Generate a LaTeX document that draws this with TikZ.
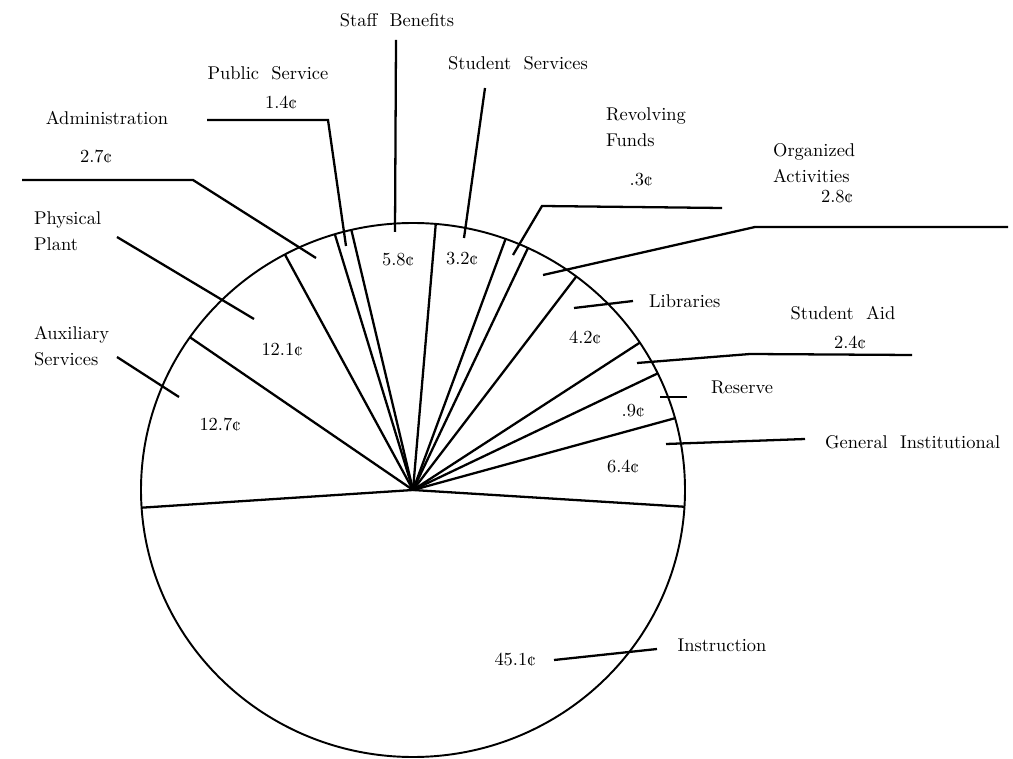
\documentclass[tikz,border=0pt]{standalone}
\usepackage{tikz}
\def\lbl{\node[inner sep=0pt,font=\fontsize{10.5}{14.5}\selectfont,align=left]}

\begin{document}
\begin{tikzpicture}[x=0.02cm,y=-0.02cm,line width=1.3pt]
\useasboundingbox (0,0) rectangle (1013,759);
% the pie
\coordinate (hub) at (413,490);
\draw[line width=1.1pt] (hub) ellipse (272 and 267);
\foreach \a in {183.8,145.1,118.1,106.7,103.1,85.2,70.1,65.0,53.1,33.5,25.9,15.6,-3.6}
  \draw (hub) -- ++(-\a:272 and 267);
% amounts inside the slices
\lbl (sb) at (398,260) {5.8¢};
\lbl (ss) at (462,259) {3.2¢};
\lbl (pp) at (282,350) {12.1¢};
\lbl (as) at (220,425) {12.7¢};
\lbl (li) at (585,338) {4.2¢};
\lbl (re) at (633,411) {.9¢};
\lbl (gi) at (623,467) {6.4¢};
\lbl (in) at (515,660) {45.1¢};
% labels outside
\lbl (staff) at (397,20) {Staff\ \ Benefits};
\lbl (stusvc) at (518,63) {Student\ \ Services};
\lbl (pubsvc) at (268,73) {Public\ \ Service};
\lbl (pubval) at (281,103) {1.4¢};
\lbl (admin) at (107,118) {Administration};
\lbl (adminval) at (96,157) {2.7¢};
\lbl[anchor=west] (plant) at (33,231) {Physical\\Plant};
\lbl[anchor=west] (aux) at (33,346) {Auxiliary\\Services};
\lbl[anchor=west] (revolv) at (605,127) {Revolving\\Funds};
\lbl (revolvval) at (641,180) {.3¢};
\lbl[anchor=west] (orgact) at (772,163) {Organized\\Activities};
\lbl (orgactval) at (837,197) {2.8¢};
\lbl[anchor=west] (libr) at (648,301) {Libraries};
\lbl (stuaid) at (843,313) {Student\ \ Aid};
\lbl (stuaidval) at (850,343) {2.4¢};
\lbl[anchor=west] (reserve) at (710,387) {Reserve};
\lbl[anchor=west] (genins) at (824,442) {General\ \ Institutional};
\lbl (instr) at (722,645) {Instruction};
% leader lines
\coordinate (staffA) at (396,40);   \coordinate (staffB) at (395,232);
\coordinate (stusvcA) at (485,88);  \coordinate (stusvcB) at (464,238);
\coordinate (pubA) at (207,120);    \coordinate (pubK) at (328,120);  \coordinate (pubB) at (346,246);
\coordinate (adminA) at (22,180);   \coordinate (adminK) at (193,180); \coordinate (adminB) at (316,258);
\coordinate (plantA) at (117,237);  \coordinate (plantB) at (254,319);
\coordinate (auxA) at (117,357);    \coordinate (auxB) at (179,397);
\coordinate (revA) at (722,208);    \coordinate (revK) at (542,206);  \coordinate (revB) at (513,255);
\coordinate (orgA) at (1008,227);   \coordinate (orgK) at (755,227);  \coordinate (orgB) at (543,275);
\coordinate (librA) at (633,301);   \coordinate (librB) at (574,308);
\coordinate (aidA) at (912,355);    \coordinate (aidK) at (750,354);  \coordinate (aidB) at (637,363);
\coordinate (resA) at (687,397);    \coordinate (resB) at (660,397);
\coordinate (genA) at (805,439);    \coordinate (genB) at (666,444);
\coordinate (instrA) at (657,649);  \coordinate (instrB) at (554,660);
\draw (staffA) -- (staffB);
\draw (stusvcA) -- (stusvcB);
\draw (pubA) -- (pubK) -- (pubB);
\draw (adminA) -- (adminK) -- (adminB);
\draw (plantA) -- (plantB);
\draw (auxA) -- (auxB);
\draw (revA) -- (revK) -- (revB);
\draw (orgA) -- (orgK) -- (orgB);
\draw (librA) -- (librB);
\draw (aidA) -- (aidK) -- (aidB);
\draw (resA) -- (resB);
\draw (genA) -- (genB);
\draw (instrA) -- (instrB);
\end{tikzpicture}
\end{document}
